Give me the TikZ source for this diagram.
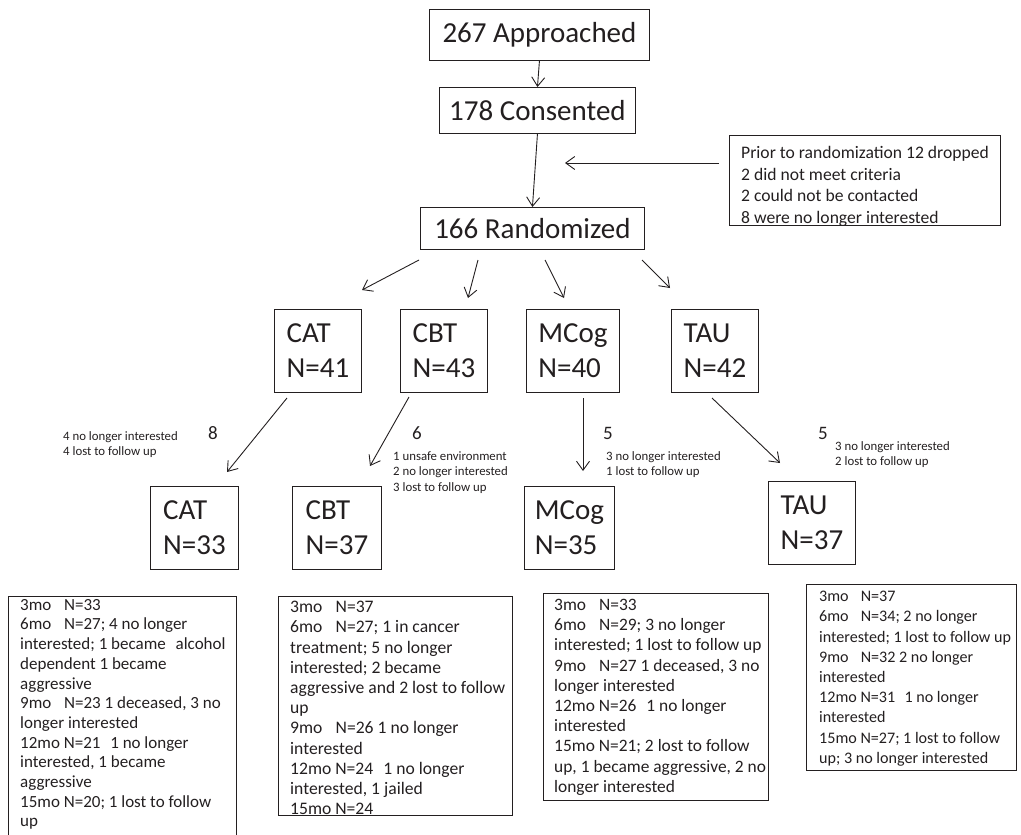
\documentclass[tikz,border=0pt]{standalone}
\usepackage{fontspec}
\setmainfont{Carlito}
\usetikzlibrary{arrows.meta}
\definecolor{ink}{HTML}{231F20}
\newcommand\gapA{\hspace{0.75em}}
\newcommand\gapB{\hspace{0.35em}}
\begin{document}
\begin{tikzpicture}[x=1pt,y=-1pt,
  box/.style={draw=ink, line width=0.9pt, inner sep=0pt, anchor=north west, text=ink},
  big/.style={font=\fontsize{29}{35}\selectfont, align=left},
  txt/.style={inner sep=0pt, anchor=north west, align=left, text=ink},
  detail/.style={txt, font=\fontsize{#1}{20.2}\selectfont},
  small/.style={txt, font=\fontsize{12.8}{15.5}\selectfont},
  num/.style={inner sep=0pt, text=ink, font=\fontsize{19}{22}\selectfont},
  arr/.style={-{Straight Barb[length=9pt,width=13pt]}, line width=0.9pt, draw=ink}]
\useasboundingbox (0,0) rectangle (1021,835);

% top chain
\node[box, big, minimum width=220pt, minimum height=51pt] (appr) at (429,9) {267 Approached};
\node[box, big, minimum width=196pt, minimum height=46pt] (cons) at (439,87) {178 Consented};
\node[box, big, minimum width=224pt, minimum height=42pt] (rand) at (420,207) {166 Randomized};
\draw[arr] (appr.south) -- (cons.north);
\draw[arr] (cons.south) -- (rand.north);

% exclusion box
\node[box, minimum width=271pt, minimum height=90pt] (excl) at (729,135) {};
\node[txt, font=\fontsize{17.6}{21.6}\selectfont] (excltxt) at (741,146)
  {Prior to randomization 12 dropped\\2 did not meet criteria\\2 could not be contacted\\8 were no longer interested};
\coordinate (exA) at (719,163);
\coordinate (exB) at (565,163);
\draw[arr] (exA) -- (exB);

% randomization arrows
\coordinate (r1a) at (419,260); \coordinate (r1b) at (362,290);
\coordinate (r2a) at (478,260); \coordinate (r2b) at (468,298);
\coordinate (r3a) at (545,260); \coordinate (r3b) at (564,298);
\coordinate (r4a) at (642,260); \coordinate (r4b) at (670,288);
\draw[arr] (r1a) -- (r1b);
\draw[arr] (r2a) -- (r2b);
\draw[arr] (r3a) -- (r3b);
\draw[arr] (r4a) -- (r4b);

% arm boxes
\node[box, big, minimum width=87pt, minimum height=83pt] (cat1) at (274,309) {CAT\\N=41};
\node[box, big, minimum width=87pt, minimum height=83pt] (cbt1) at (400,309) {CBT\\N=43};
\node[box, big, minimum width=93pt, minimum height=83pt] (mcog1) at (526,309) {MCog\\N=40};
\node[box, big, minimum width=87pt, minimum height=83pt] (tau1) at (671,309) {TAU\\N=42};

% drop-out arrows
\coordinate (d1a) at (287,398); \coordinate (d1b) at (227,472);
\coordinate (d2a) at (409,397); \coordinate (d2b) at (370,466);
\coordinate (d3a) at (583,398); \coordinate (d3b) at (583,471);
\coordinate (d4a) at (712,398); \coordinate (d4b) at (780,463);
\draw[arr] (d1a) -- (d1b);
\draw[arr] (d2a) -- (d2b);
\draw[arr] (d3a) -- (d3b);
\draw[arr] (d4a) -- (d4b);

% drop-out labels
\node[num] (n1) at (213,433) {8};
\node[small] (l1) at (63,431) {4 no longer interested\\4 lost to follow up};
\node[num] (n2) at (417,433) {6};
\node[small] (l2) at (393,451) {1 unsafe environment\\2 no longer interested\\3 lost to follow up};
\node[num] (n3) at (608,433) {5};
\node[small] (l3) at (606,451) {3 no longer interested\\1 lost to follow up};
\node[num] (n4) at (823,433) {5};
\node[small] (l4) at (835,441) {3 no longer interested\\2 lost to follow up};

% completer boxes
\node[box, big, minimum width=88pt, minimum height=83pt] (cat2) at (150,486) {CAT\\N=33};
\node[box, big, minimum width=89pt, minimum height=83pt] (cbt2) at (292,486) {CBT\\N=37};
\node[box, big, minimum width=90pt, minimum height=83pt] (mcog2) at (524,486) {MCog\\N=35};
\node[box, big, minimum width=87pt, minimum height=83pt] (tau2) at (768,481) {TAU\\N=37};

% follow-up boxes
\draw[draw=ink, line width=0.9pt] (8,850) -- (8,596) -- (236,596) -- (236,850);
\node[txt, font=\fontsize{17}{19.7}\selectfont] (catd) at (20,599)
  {3mo\gapA N=33\\6mo\gapA N=27; 4 no longer\\interested; 1 became\gapB\ alcohol\\dependent 1 became\\aggressive\\9mo\gapA N=23 1 deceased, 3 no\\longer interested\\12mo N=21\gapB\ 1 no longer\\interested, 1 became\\aggressive\\15mo N=20; 1 lost to follow\\up};

\node[box, minimum width=234pt, minimum height=219pt] (cbtd) at (278,596) {};
\node[detail=17.6] (cbtdt) at (290,601)
  {3mo\gapA N=37\\6mo\gapA N=27; 1 in cancer\\treatment; 5 no longer\\interested; 2 became\\aggressive and 2 lost to follow\\up\\9mo\gapA N=26 1 no longer\\interested\\12mo N=24\gapB\ 1 no longer\\interested, 1 jailed\\15mo N=24};

\node[box, minimum width=225pt, minimum height=207pt] (mcogd) at (543,593) {};
\node[detail=17.4] (mcogdt) at (554,599)
  {3mo\gapA N=33\\6mo\gapA N=29; 3 no longer\\interested; 1 lost to follow up\\9mo\gapA N=27 1 deceased, 3 no\\longer interested\\12mo N=26\gapB\ 1 no longer\\interested\\15mo N=21; 2 lost to follow\\up, 1 became aggressive, 2 no\\longer interested};

\node[box, minimum width=210pt, minimum height=186pt] (taud) at (806,584) {};
\node[detail=16.1] (taudt) at (819,591)
  {3mo\gapA N=37\\6mo\gapA N=34; 2 no longer\\interested; 1 lost to follow up\\9mo\gapA N=32 2 no longer\\interested\\12mo N=31\gapB\ 1 no longer\\interested\\15mo N=27; 1 lost to follow\\up; 3 no longer interested};
\end{tikzpicture}
\end{document}
